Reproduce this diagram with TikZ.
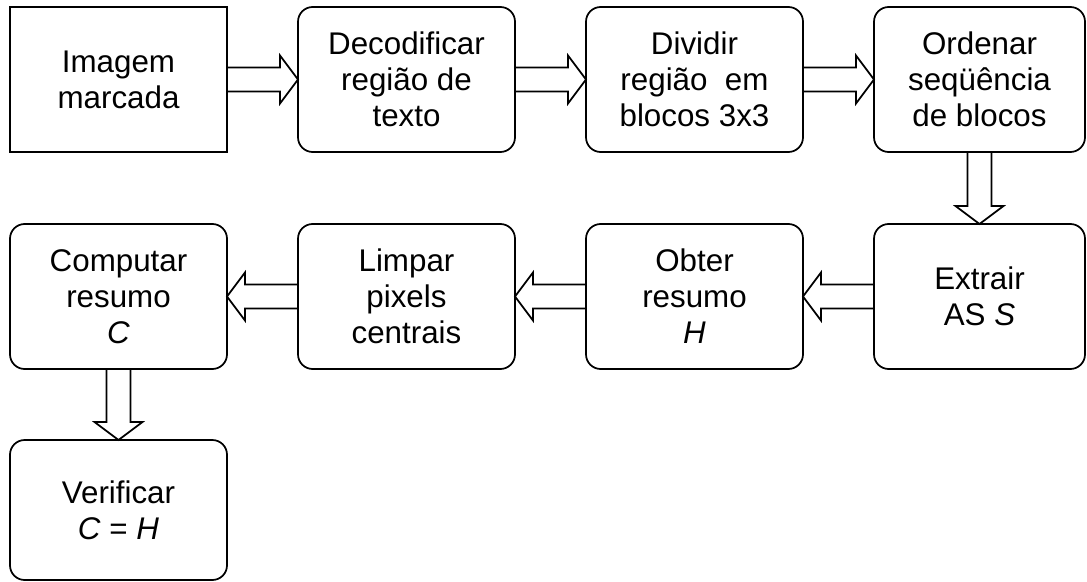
\documentclass[tikz,border=0pt]{standalone}
\usepackage{fontspec}
\setmainfont{Liberation Sans}
\usetikzlibrary
  {
    positioning, % place nodes relative to other nodes
    calc,        % corners of the hollow arrows
  }

% hollow block arrow from one node anchor to another
\newcommand\blockarrow[2]{%
  \coordinate (headbase) at ($(#2)!13.5pt!(#1)$);
  \draw [hollow] ($(#1)!9pt!90:(#2)$) -- ($(headbase)!9pt!90:(#2)$)
    -- ($(headbase)!18pt!90:(#2)$) -- (#2)
    -- ($(headbase)!18pt!-90:(#2)$) -- ($(headbase)!9pt!-90:(#2)$)
    -- ($(#1)!9pt!-90:(#2)$);
}

\begin{document}
\begin{tikzpicture}
    [
      node distance=54pt and 53.25pt,
      source/.style=
        {
          rectangle,
          draw=black,
          line width=1.3pt,
          minimum width=162.75pt,
          minimum height=108.75pt,
          inner sep=0pt,
          outer sep=0pt,
          align=center,
          font=\fontsize{23.5}{27}\selectfont,
        },
      stage/.style=
        {
          source,
          rounded corners=11pt,
        },
      hollow/.style=
        {
          draw=black,
          line width=1.3pt,
          line join=miter,
        }
    ]
    \useasboundingbox (0,0) rectangle (815.25pt,-435.75pt);

    \node (img) [source] at (88.875pt,-59.625pt) {Imagem\\marcada};
    \node (dec) [stage, right=of img] {Decodificar\\região de\\texto};
    \node (div) [stage, right=of dec] {Dividir\\região \ em\\blocos 3x3};
    \node (ord) [stage, right=of div, minimum width=158.25pt] {Ordenar\\seqüência\\de blocos};

    \node (ext) [stage, below=of ord, minimum width=158.25pt] {Extrair\\AS \textit{S}};
    \node (obt) [stage, left=of ext] {Obter\\resumo\\\textit{H}};
    \node (lim) [stage, left=of obt] {Limpar\\pixels\\centrais};
    \node (comp) [stage, left=of lim] {Computar\\resumo\\\textit{C}};

    \node (ver) [stage, below=53.25pt of comp, minimum height=105pt] {Verificar\\\textit{C} = \textit{H}};

    \blockarrow{img.east}{dec.west}
    \blockarrow{dec.east}{div.west}
    \blockarrow{div.east}{ord.west}
    \blockarrow{ord.south}{ext.north}
    \blockarrow{ext.west}{obt.east}
    \blockarrow{obt.west}{lim.east}
    \blockarrow{lim.west}{comp.east}
    \blockarrow{comp.south}{ver.north}
  \end{tikzpicture}
\end{document}
